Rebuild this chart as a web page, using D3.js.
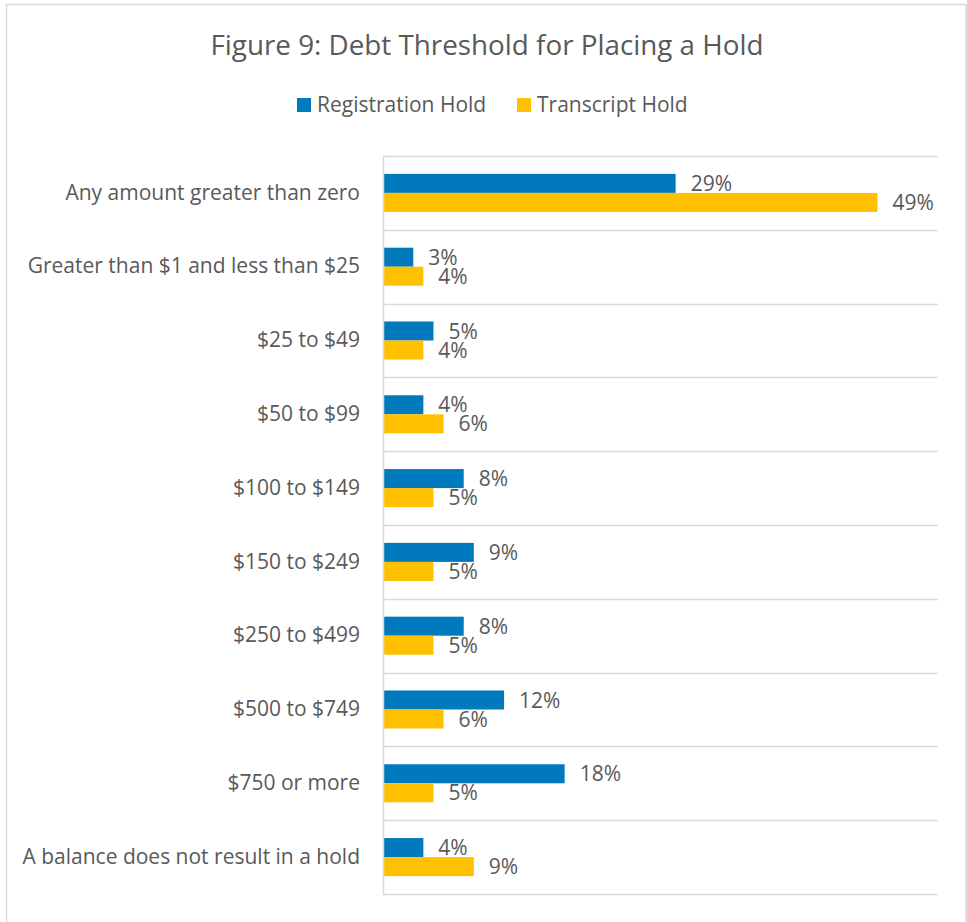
<!DOCTYPE html>
<html>
<head>
<meta charset="utf-8">
<script src="https://cdn.jsdelivr.net/npm/d3@7"></script>
<style>
  body { margin: 0; background: #fff; }
  svg text { font-family: "Open Sans", "Noto Sans", sans-serif; fill: #595959; }
</style>
</head>
<body>
<script>
// chart data
var categories = [
  "Any amount greater than zero",
  "Greater than $1 and less than $25",
  "$25 to $49",
  "$50 to $99",
  "$100 to $149",
  "$150 to $249",
  "$250 to $499",
  "$500 to $749",
  "$750 or more",
  "A balance does not result in a hold"
];
var seriesNames = ["Registration Hold", "Transcript Hold"];
var registration = [29, 3, 5, 4, 8, 9, 8, 12, 18, 4];
var transcript = [49, 4, 4, 6, 5, 5, 5, 6, 5, 9];
var colours = ["#0079BD", "#FFC000"];

var width = 967, height = 922;
var plotLeft = 383, plotRight = 938, plotTop = 156, plotBottom = 894;
var labelSize = "21px";

var svg = d3.select("body").append("svg")
  .attr("width", width)
  .attr("height", height);

// chart frame
svg.append("rect")
  .attr("x", 6.5).attr("y", 4.5)
  .attr("width", 959.5).attr("height", 940)
  .attr("fill", "none")
  .attr("stroke", "#D9D9D9")
  .attr("stroke-width", 1.5);

svg.append("text")
  .attr("x", 487).attr("y", 55)
  .attr("text-anchor", "middle")
  .style("font-size", "27.8px")
  .text("Figure 9: Debt Threshold for Placing a Hold");

// legend
var legend = svg.append("g").selectAll("g")
  .data(seriesNames)
  .enter().append("g")
  .attr("transform", (d, i) => "translate(" + (297 + i * 220) + ",98)");
legend.append("rect")
  .attr("width", 14).attr("height", 14)
  .attr("fill", (d, i) => colours[i]);
legend.append("text")
  .attr("x", 20).attr("y", 14)
  .style("font-size", labelSize)
  .text(d => d);

var x = d3.scaleLinear().domain([0, 55]).range([plotLeft, plotRight]);
var y = d3.scaleBand().domain(categories).range([plotTop, plotBottom]);
var y1 = d3.scaleBand().domain(seriesNames).range([0, y.bandwidth()]).paddingOuter(0.94);

// gridlines at category boundaries
var bounds = categories.map(c => y(c)).concat([plotBottom]);
svg.append("g").selectAll("line")
  .data(bounds)
  .enter().append("line")
  .attr("x1", plotLeft).attr("x2", plotRight)
  .attr("y1", d => Math.round(d) + 0.5).attr("y2", d => Math.round(d) + 0.5)
  .attr("stroke", "#D9D9D9")
  .attr("stroke-width", 1.5);

var rows = categories.map((c, i) => ({ cat: c, vals: [registration[i], transcript[i]] }));

var groups = svg.append("g").selectAll("g")
  .data(rows)
  .enter().append("g")
  .attr("transform", d => "translate(0," + y(d.cat) + ")");

groups.selectAll("rect")
  .data(d => d.vals.map((v, i) => ({ v: v, s: seriesNames[i], i: i })))
  .enter().append("rect")
  .attr("x", x(0))
  .attr("y", d => y1(d.s))
  .attr("width", d => x(d.v) - x(0))
  .attr("height", y1.bandwidth())
  .attr("fill", d => colours[d.i]);

groups.selectAll("text")
  .data(d => d.vals.map((v, i) => ({ v: v, s: seriesNames[i] })))
  .enter().append("text")
  .attr("x", d => x(d.v) + 15)
  .attr("y", d => y1(d.s) + y1.bandwidth() / 2)
  .attr("dy", "0.36em")
  .style("font-size", labelSize)
  .text(d => d.v + "%");

// category axis
var axis = svg.append("g")
  .attr("transform", "translate(" + plotLeft + ",0)")
  .call(d3.axisLeft(y).tickSize(0).tickPadding(23));
axis.select(".domain").remove();
axis.selectAll("text")
  .attr("fill", "#595959")
  .style("font-size", labelSize)
  .style("font-family", "'Open Sans', 'Noto Sans', sans-serif");

svg.append("line")
  .attr("x1", plotLeft + 0.5).attr("x2", plotLeft + 0.5)
  .attr("y1", plotTop).attr("y2", plotBottom + 1)
  .attr("stroke", "#D9D9D9")
  .attr("stroke-width", 1.5);
</script>
</body>
</html>
